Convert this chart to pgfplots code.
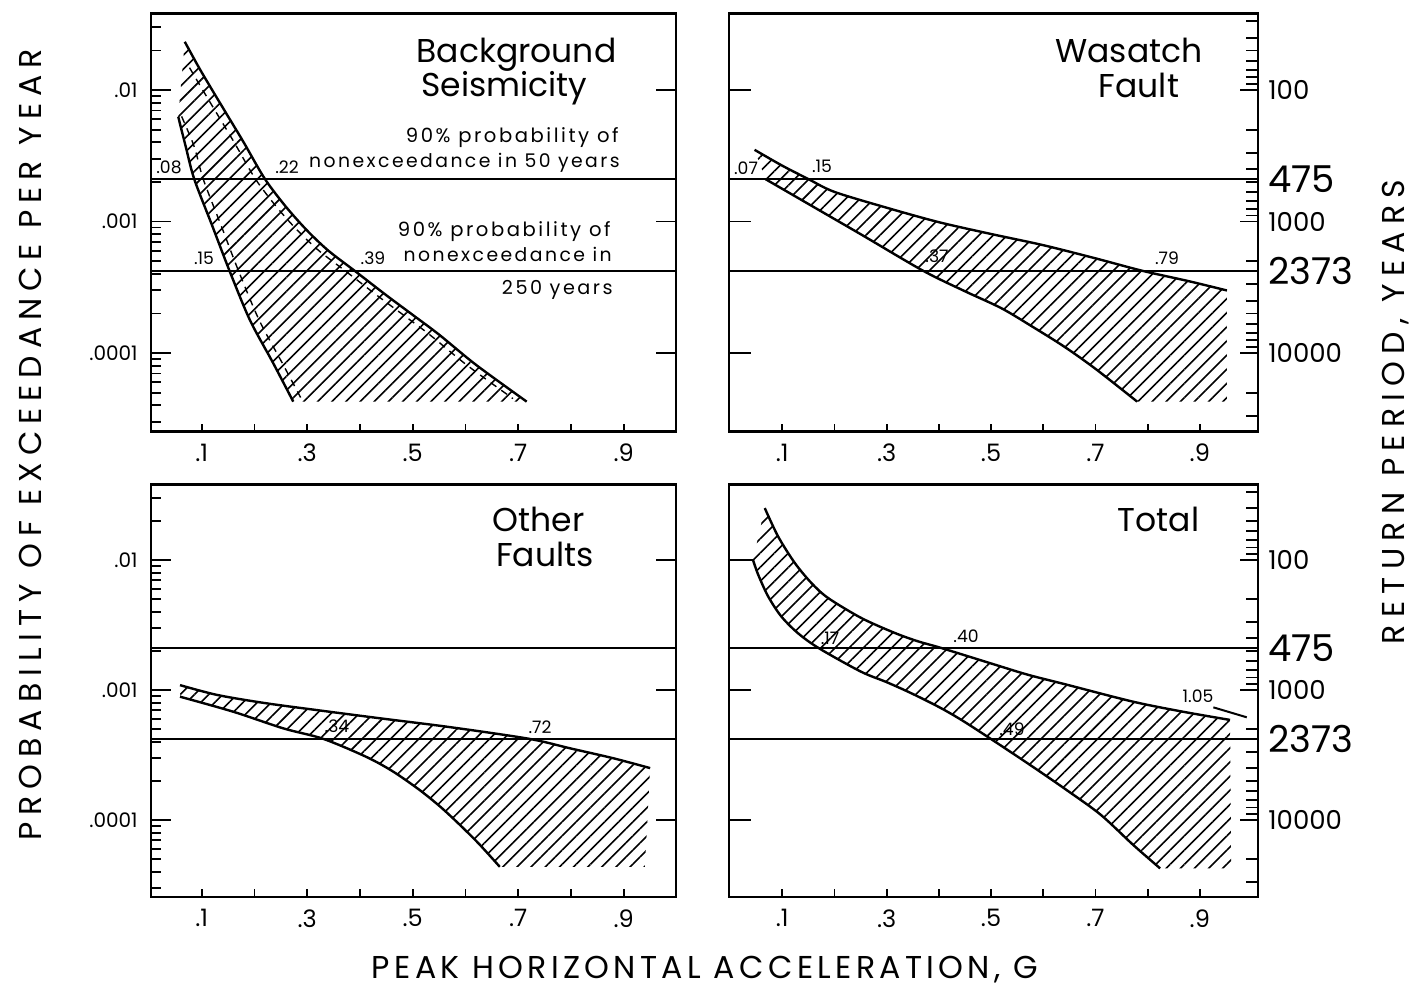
\documentclass[border=0pt]{standalone}
\usepackage{fontspec}
\setmainfont{Poppins}
\newfontfamily\spaced[LetterSpace=13]{Poppins}
\newfontfamily\titlesp[LetterSpace=22]{Poppins}
\newfontfamily\titlesr[LetterSpace=23]{Poppins}
\newfontfamily\botsp[LetterSpace=13.7]{Poppins}
\usepackage{pgfplots}
\pgfplotsset{compat=1.18}
\usetikzlibrary{patterns.meta}

\pgfplotsset{
 zzbase/.style={scale only axis, tick align=inside,
   axis line style={line width=1.4pt,-}, tick style={line width=0.9pt, black}},
 zzL/.style={zzbase, width=262.5pt, xmin=0.004, xmax=0.999},
 zzR/.style={zzbase, width=264.5pt, xmin=-0.002, xmax=1.0115},
 zzT/.style={height=209pt, ymin=2.53e-5, ymax=0.0382},
 zzB/.style={height=206.25pt, ymin=2.56e-5, ymax=0.0381},
 zzmain/.style={xtick={0.1,0.2,0.3,0.4,0.5,0.6,0.7,0.8,0.9},
   xticklabels={.1,,.3,,.5,,.7,,.9}, xtick pos=bottom, major tick length=4pt,
   ymajorticks=false, yminorticks=false,
   xticklabel style={font=\fontsize{12}{12}\selectfont, anchor=north, inner sep=0pt, yshift=-6pt}},
 zzleft/.style={axis y line*=left, hide x axis, ytick={1e-4,1e-3,1e-2},
   major tick length=10pt, minor tick length=5pt},
 zzright/.style={axis y line*=right, hide x axis},
}
\tikzset{
 zzcurve/.style={black, line width=1.2pt, smooth},
 zzhline/.style={black, line width=1.2pt},
 zzhatch/.style={draw=none, pattern={Lines[angle=45,distance=5pt,line width=0.8pt]}},
}
\newcommand\txt[4]{\node[inner sep=0pt,#1] at ({#2*0.5pt},{-#3*0.5pt}) {#4};}
\newcommand\ptl[3]{\txt{anchor=base}{#1}{#2}{\fontsize{8.6}{9}\selectfont #3}}

\begin{document}
\begin{tikzpicture}
\useasboundingbox (0,0) rectangle (707.5pt,-494pt);

% ================= TOP LEFT : Background Seismicity
\begin{axis}[ymode=log,zzL,zzT,zzmain, at={(75.5pt,-6.75pt)}, anchor=north west]
\addplot[zzhatch] coordinates {(0.068,0.02328)(0.095,0.01479)(0.12,0.0100)(0.15,0.00631)(0.18,0.00398)(0.22,0.002104)(0.26,0.001291)(0.30,0.000853)(0.34,0.000601)(0.39,0.000422)(0.45,0.000275)(0.50,0.000195)(0.55,0.000138)(0.62,8.13e-5)(0.716,4.27e-5)(0.2736,4.27e-5)(0.2357,8.36e-5)(0.1915,0.000178)(0.153,0.00042)(0.12,0.00093)(0.086,0.0021)(0.07,0.00369)(0.0556,0.00627)} -- cycle;
\addplot[zzcurve] coordinates {(0.068,0.02328)(0.095,0.01479)(0.12,0.0100)(0.15,0.00631)(0.18,0.00398)(0.22,0.002104)(0.26,0.001291)(0.30,0.000853)(0.34,0.000601)(0.39,0.000422)(0.45,0.000275)(0.50,0.000195)(0.55,0.000138)(0.62,8.13e-5)(0.716,4.27e-5)};
\addplot[zzcurve] coordinates {(0.0556,0.00627)(0.07,0.00369)(0.086,0.0021)(0.12,0.00093)(0.153,0.00042)(0.1915,0.000178)(0.2357,8.36e-5)(0.2736,4.27e-5)};
\addplot[black, line width=0.7pt, smooth, dash pattern=on 3.5pt off 3pt] coordinates {(0.077,0.01479)(0.102,0.0100)(0.132,0.00631)(0.162,0.00398)(0.202,0.002104)(0.242,0.001291)(0.282,0.000853)(0.322,0.000601)(0.372,0.000422)(0.432,0.000275)(0.482,0.000195)(0.532,0.000138)(0.602,8.13e-5)(0.69,4.5e-5)};
\addplot[black, line width=0.7pt, smooth, dash pattern=on 3.5pt off 3pt] coordinates {(0.062,0.0063)(0.086,0.0037)(0.103,0.0021)(0.137,0.00093)(0.17,0.00042)(0.209,0.000178)(0.253,8.36e-5)(0.29,4.4e-5)};
\addplot[zzhline] coordinates {(0.004,0.0021053)(0.999,0.0021053)};
\addplot[zzhline] coordinates {(0.004,0.00042141)(0.999,0.00042141)};
\end{axis}
\begin{axis}[ymode=log,zzL,zzT,zzleft, at={(75.5pt,-6.75pt)}, anchor=north west,
  yticklabels={.0001,.001,.01},
  minor ytick={3e-5,4e-5,5e-5,6e-5,7e-5,8e-5,9e-5,2e-4,3e-4,4e-4,5e-4,6e-4,7e-4,8e-4,9e-4,2e-3,3e-3,4e-3,5e-3,6e-3,7e-3,8e-3,9e-3,2e-2,3e-2},
  yticklabel style={font=\fontsize{10}{10}\selectfont, anchor=east, inner sep=0pt, xshift=-6.5pt}]
\addplot[draw=none] coordinates {(0.5,1e-3)};
\end{axis}
\begin{axis}[ymode=log,zzL,zzT,zzright, at={(75.5pt,-6.75pt)}, anchor=north west,
  ytick={1e-4,1e-3,1e-2}, yticklabels={,,}, yminorticks=false, major tick length=10pt]
\addplot[draw=none] coordinates {(0.5,1e-3)};
\end{axis}

% ================= TOP RIGHT : Wasatch Fault
\begin{axis}[ymode=log,zzR,zzT,zzmain, at={(364.5pt,-6.75pt)}, anchor=north west]
\addplot[zzhatch] coordinates {(0.047,0.00351)(0.10,0.00266)(0.15,0.002104)(0.20,0.00168)(0.30,0.001274)(0.40,0.000989)(0.50,0.000804)(0.60,0.000661)(0.70,0.000525)(0.79,0.000422)(0.88,0.000351)(0.952,0.000299)(0.952,4.27e-5)(0.78,4.27e-5)(0.70,7.59e-5)(0.64,0.000112)(0.58,0.000158)(0.52,0.000219)(0.45,0.000295)(0.37,0.000422)(0.25,0.000802)(0.15,0.001361)(0.068,0.0021)} -- cycle;
\addplot[zzcurve] coordinates {(0.047,0.00351)(0.10,0.00266)(0.15,0.002104)(0.20,0.00168)(0.30,0.001274)(0.40,0.000989)(0.50,0.000804)(0.60,0.000661)(0.70,0.000525)(0.79,0.000422)(0.88,0.000351)(0.952,0.000299)};
\addplot[zzcurve] coordinates {(0.068,0.0021)(0.15,0.001361)(0.25,0.000802)(0.37,0.000422)(0.45,0.000295)(0.52,0.000219)(0.58,0.000158)(0.64,0.000112)(0.70,7.59e-5)(0.78,4.27e-5)};
\addplot[zzhline] coordinates {(-0.002,0.0021053)(1.0115,0.0021053)};
\addplot[zzhline] coordinates {(-0.002,0.00042141)(1.0115,0.00042141)};
\end{axis}
\begin{axis}[ymode=log,zzR,zzT,zzleft, at={(364.5pt,-6.75pt)}, anchor=north west,
  yticklabels={,,}, yminorticks=false, major tick length=11pt]
\addplot[draw=none] coordinates {(0.5,1e-3)};
\end{axis}
\begin{axis}[ymode=log,zzR,zzT,zzright, at={(364.5pt,-6.75pt)}, anchor=north west,
  ytick={1e-4,4.2141e-4,1e-3,2.1053e-3,1e-2},
  yticklabels={{\fontsize{13}{13}\selectfont 10000},{\fontsize{18.5}{18}\selectfont 2373},{\fontsize{13}{13}\selectfont 1000},{\fontsize{18.5}{18}\selectfont 475},{\fontsize{13}{13}\selectfont 100}},
  minor ytick={0.033333,0.025,0.02,0.016667,0.014286,0.0125,0.011111,0.005,0.0033333,0.0025,0.002,0.0016667,0.0014286,0.00125,0.0011111,5e-4,3.3333e-4,2.5e-4,2e-4,1.6667e-4,1.4286e-4,1.25e-4,1.1111e-4,5e-5,3.3333e-5},
  major tick length=9pt, minor tick length=6pt,
  yticklabel style={anchor=west, inner sep=0pt, xshift=5pt}]
\addplot[draw=none] coordinates {(0.5,1e-3)};
\end{axis}

% ================= BOTTOM LEFT : Other Faults
\begin{axis}[ymode=log,zzL,zzB,zzmain, at={(75.5pt,-242.25pt)}, anchor=north west]
\addplot[zzhatch] coordinates {(0.059,0.001091)(0.13,0.000916)(0.22,0.000794)(0.32,0.0007)(0.44,0.000605)(0.57,0.000519)(0.72,0.000422)(0.80,0.000355)(0.88,0.000299)(0.95,0.000251)(0.94,4.37e-5)(0.665,4.37e-5)(0.625,6.6e-5)(0.585,9.55e-5)(0.55,0.000129)(0.51,0.000174)(0.46,0.00024)(0.41,0.000309)(0.33,0.000422)(0.255,0.000507)(0.16,0.000681)(0.059,0.000889)} -- cycle;
\addplot[zzcurve] coordinates {(0.059,0.001091)(0.13,0.000916)(0.22,0.000794)(0.32,0.0007)(0.44,0.000605)(0.57,0.000519)(0.72,0.000422)(0.80,0.000355)(0.88,0.000299)(0.95,0.000251)};
\addplot[zzcurve] coordinates {(0.059,0.000889)(0.16,0.000681)(0.255,0.000507)(0.33,0.000422)(0.41,0.000309)(0.46,0.00024)(0.51,0.000174)(0.55,0.000129)(0.585,9.55e-5)(0.625,6.6e-5)(0.665,4.37e-5)};
\addplot[zzhline] coordinates {(0.004,0.0021053)(0.999,0.0021053)};
\addplot[zzhline] coordinates {(0.004,0.00042141)(0.999,0.00042141)};
\end{axis}
\begin{axis}[ymode=log,zzL,zzB,zzleft, at={(75.5pt,-242.25pt)}, anchor=north west,
  yticklabels={.0001,.001,.01},
  minor ytick={3e-5,4e-5,5e-5,6e-5,7e-5,8e-5,9e-5,2e-4,3e-4,4e-4,5e-4,6e-4,7e-4,8e-4,9e-4,2e-3,3e-3,4e-3,5e-3,6e-3,7e-3,8e-3,9e-3,2e-2,3e-2},
  yticklabel style={font=\fontsize{10}{10}\selectfont, anchor=east, inner sep=0pt, xshift=-6.5pt}]
\addplot[draw=none] coordinates {(0.5,1e-3)};
\end{axis}
\begin{axis}[ymode=log,zzL,zzB,zzright, at={(75.5pt,-242.25pt)}, anchor=north west,
  ytick={1e-4,1e-3,1e-2}, yticklabels={,,}, yminorticks=false, major tick length=10pt]
\addplot[draw=none] coordinates {(0.5,1e-3)};
\end{axis}

% ================= BOTTOM RIGHT : Total
\begin{axis}[ymode=log,zzR,zzB,zzmain, at={(364.5pt,-242.25pt)}, anchor=north west]
\addplot[zzhatch] coordinates {(0.0665,0.0251)(0.092,0.0152)(0.124,0.0095)(0.156,0.00665)(0.188,0.0051)(0.2516,0.00358)(0.3155,0.00275)(0.36,0.00237)(0.405,0.002104)(0.507,0.00157)(0.571,0.00131)(0.645,0.0011)(0.7726,0.000813)(0.868,0.000681)(0.958,0.000589)(0.96,4.25e-5)(0.824,4.25e-5)(0.772,6.46e-5)(0.71,0.00011)(0.645,0.00017)(0.58,0.000257)(0.50,0.00042)(0.443,0.00059)(0.40,0.000741)(0.347,0.000946)(0.30,0.00115)(0.25,0.00139)(0.17,0.0021)(0.13,0.00274)(0.098,0.00369)(0.073,0.00525)(0.054,0.0077)(0.044,0.01)} -- cycle;
\addplot[zzhline] coordinates {(-0.002,0.01)(0.044,0.01)};
\addplot[zzcurve] coordinates {(0.0665,0.0251)(0.092,0.0152)(0.124,0.0095)(0.156,0.00665)(0.188,0.0051)(0.2516,0.00358)(0.3155,0.00275)(0.36,0.00237)(0.405,0.002104)(0.507,0.00157)(0.571,0.00131)(0.645,0.0011)(0.7726,0.000813)(0.868,0.000681)(0.958,0.000589)};
\addplot[zzcurve] coordinates {(0.044,0.01)(0.054,0.0077)(0.073,0.00525)(0.098,0.00369)(0.13,0.00274)(0.17,0.0021)(0.25,0.00139)(0.30,0.00115)(0.347,0.000946)(0.40,0.000741)(0.443,0.00059)(0.50,0.00042)(0.58,0.000257)(0.645,0.00017)(0.71,0.00011)(0.772,6.46e-5)(0.824,4.25e-5)};
\addplot[black, line width=1pt] coordinates {(0.926,0.000736)(0.99,0.000617)};
\addplot[zzhline] coordinates {(-0.002,0.0021053)(1.0115,0.0021053)};
\addplot[zzhline] coordinates {(-0.002,0.00042141)(1.0115,0.00042141)};
\end{axis}
\begin{axis}[ymode=log,zzR,zzB,zzleft, at={(364.5pt,-242.25pt)}, anchor=north west,
  yticklabels={,,}, yminorticks=false, major tick length=11pt]
\addplot[draw=none] coordinates {(0.5,1e-3)};
\end{axis}
\begin{axis}[ymode=log,zzR,zzB,zzright, at={(364.5pt,-242.25pt)}, anchor=north west,
  ytick={1e-4,4.2141e-4,1e-3,2.1053e-3,1e-2},
  yticklabels={{\fontsize{13}{13}\selectfont 10000},{\fontsize{18.5}{18}\selectfont 2373},{\fontsize{13}{13}\selectfont 1000},{\fontsize{18.5}{18}\selectfont 475},{\fontsize{13}{13}\selectfont 100}},
  minor ytick={0.033333,0.025,0.02,0.016667,0.014286,0.0125,0.011111,0.005,0.0033333,0.0025,0.002,0.0016667,0.0014286,0.00125,0.0011111,5e-4,3.3333e-4,2.5e-4,2e-4,1.6667e-4,1.4286e-4,1.25e-4,1.1111e-4,5e-5,3.3333e-5},
  major tick length=9pt, minor tick length=6pt,
  yticklabel style={anchor=west, inner sep=0pt, xshift=5pt}]
\addplot[draw=none] coordinates {(0.5,1e-3)};
\end{axis}

% ================= texts
\txt{anchor=base}{516.5}{63}{\fontsize{16.5}{18}\selectfont Background}
\txt{anchor=base}{504.5}{97}{\fontsize{16.5}{18}\selectfont Seismicity}
\txt{anchor=base}{1129}{63}{\fontsize{16.5}{18}\selectfont Wasatch}
\txt{anchor=base}{1139}{98}{\fontsize{16.5}{18}\selectfont Fault}
\txt{anchor=base}{538.5}{532}{\fontsize{16.5}{18}\selectfont Other}
\txt{anchor=base}{545}{567}{\fontsize{16.5}{18}\selectfont Faults}
\txt{anchor=base}{1158.5}{532}{\fontsize{16.5}{18}\selectfont Total}

\txt{anchor=base east}{619}{143}{\spaced\fontsize{9.8}{10}\selectfont 90\% probability of}
\txt{anchor=base east}{620}{168}{\spaced\fontsize{9.4}{10}\selectfont nonexceedance in 50 years}
\txt{anchor=base east}{611}{237}{\spaced\fontsize{9.8}{10}\selectfont 90\% probability of}
\txt{anchor=base east}{612}{262}{\spaced\fontsize{9.4}{10}\selectfont nonexceedance in}
\txt{anchor=base east}{613}{295}{\spaced\fontsize{9.6}{10}\selectfont 250 years}

\ptl{169}{174}{.08}
\ptl{287}{174}{.22}
\ptl{204}{265}{.15}
\ptl{373}{265}{.39}
\ptl{746}{175}{.07}
\ptl{822}{173}{.15}
\ptl{937}{263}{.37}
\ptl{1167}{265}{.79}
\ptl{337}{733}{.34}
\ptl{540}{734}{.72}
\ptl{830}{645}{.17}
\ptl{966}{643}{.40}
\ptl{1012}{736}{.49}
\ptl{1198}{703}{1.05}

\txt{rotate=90}{30}{445}{\titlesp\fontsize{15.8}{16}\selectfont PROBABILITY OF EXCEEDANCE PER YEAR}
\txt{rotate=90}{1396}{412}{\titlesr\fontsize{15.8}{16}\selectfont RETURN PERIOD, YEARS}
\txt{}{705}{970}{\botsp\fontsize{15.8}{16}\selectfont PEAK HORIZONTAL ACCELERATION, G}
\end{tikzpicture}
\end{document}
